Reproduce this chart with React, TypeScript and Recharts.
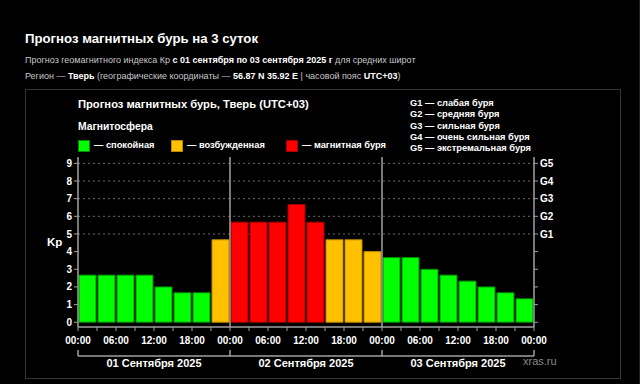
import React from 'react';
import { ComposedChart, Bar, Line, XAxis, YAxis, CartesianGrid, ReferenceLine, Cell } from 'recharts';

// ---- data ----
const slotHours = [1.5, 4.5, 7.5, 10.5, 13.5, 16.5, 19.5, 22.5, 25.5, 28.5, 31.5, 34.5, 37.5, 40.5, 43.5, 46.5, 49.5, 52.5, 55.5, 58.5, 61.5, 64.5, 67.5, 70.5];
const kpValues = [2.67, 2.67, 2.67, 2.67, 2.0, 1.67, 1.67, 4.67, 5.67, 5.67, 5.67, 6.67, 5.67, 4.67, 4.67, 4.0, 3.67, 3.67, 3.0, 2.67, 2.33, 2.0, 1.67, 1.33];
const hourTicks = [0, 3, 6, 9, 12, 15, 18, 21, 24, 27, 30, 33, 36, 39, 42, 45, 48, 51, 54, 57, 60, 63, 66, 69, 72];
const hourLabels = ['00:00', '06:00', '12:00', '18:00'];
const dayBoundaries = [0, 24, 48, 72];
const dayCenters = [12, 36, 60];
const dayLabels = ['01 Сентября 2025', '02 Сентября 2025', '03 Сентября 2025'];
const kpTicks = [0, 1, 2, 3, 4, 5, 6, 7, 8, 9];
const stormTicks = [5, 6, 7, 8, 9];
const stormLabels = ['G1', 'G2', 'G3', 'G4', 'G5'];
const stormNames = ['слабая буря', 'средняя буря', 'сильная буря', 'очень сильная буря', 'экстремальная буря'];

const data = slotHours.map((t, i) => ({ t, kp: kpValues[i] }));

const FONT = '"Liberation Sans", Arial, Helvetica, sans-serif';
const AXIS = '#a0a0a0';

const GREEN = { fill: '#00ff00', stroke: '#008a00' };
const ORANGE = { fill: '#ffc000', stroke: '#b88a00' };
const RED = { fill: '#ff0000', stroke: '#a00000' };
const colorOf = (v: number) => (v >= 5 ? RED : v >= 4 ? ORANGE : GREEN);

const hourFormatter = (v: number) => (v % 6 === 0 ? hourLabels[(v % 24) / 6] : '');
const stormFormatter = (v: number) => {
  const i = stormTicks.indexOf(v);
  return i >= 0 ? stormLabels[i] : '';
};

const DayTick = (props: any) => {
  const { x, y, payload } = props;
  const v = payload.value;
  if (dayBoundaries.includes(v)) {
    return <line x1={x} x2={x} y1={y - 6} y2={y} stroke={AXIS} strokeWidth={1.5} />;
  }
  const i = dayCenters.indexOf(v);
  return (
    <text x={x} y={y + 11} textAnchor="middle" fill="#ffffff" fontSize={11} fontWeight="bold" fontFamily={FONT}>
      {dayLabels[i]}
    </text>
  );
};

const abs = (l: number, t: number, extra: React.CSSProperties = {}): React.CSSProperties => ({
  position: 'absolute', left: l, top: t, whiteSpace: 'nowrap', fontFamily: FONT, ...extra,
});

export default function App() {
  const tickStyle = { fill: '#ffffff', fontSize: 10, fontWeight: 'bold' as const, fontFamily: FONT };
  const B = { color: '#fff' };
  return (
    <div style={{ position: 'absolute', left: 0, top: 0, width: 640, height: 384, background: '#000', overflow: 'hidden' }}>
      <div style={{ position: 'absolute', left: 639, top: 0, width: 1, height: 384, background: '#1e1e1e' }} />
      <div style={abs(25, 31, { color: '#fff', fontSize: 13.2, fontWeight: 'bold' })}>Прогноз магнитных бурь на 3 суток</div>
      <div style={abs(25, 55, { color: '#c8c8c8', fontSize: 9 })}>
        Прогноз геомагнитного индекса Кр <b style={B}>с 01 сентября по 03 сентября 2025 г</b> для средних широт
      </div>
      <div style={abs(25, 71, { color: '#c8c8c8', fontSize: 9 })}>
        Регион — <b style={B}>Тверь</b> (географические координаты — <b style={B}>56.87 N 35.92 E</b> | часовой пояс <b style={B}>UTC+03</b>)
      </div>
      <div style={{ position: 'absolute', left: 25, top: 89, width: 594, height: 288, border: '1px solid #363636' }} />

      <div style={{ position: 'absolute', left: 0, top: 0 }}>
        <ComposedChart width={640} height={384} data={data} margin={{ top: 157, left: 48, right: 76, bottom: 8 }} baseValue="dataMin">
          <CartesianGrid horizontal vertical={false} horizontalValues={stormTicks} stroke="#6a6a6a" strokeDasharray="2 3" yAxisId="kp" xAxisId="a_time" />
          <XAxis xAxisId="a_time" dataKey="t" type="number" domain={[0, 72]} ticks={hourTicks} interval={0} allowDataOverflow
            tickFormatter={hourFormatter} height={29} tickSize={4} tickMargin={6}
            axisLine={{ stroke: AXIS, strokeWidth: 1.5 }} tickLine={{ stroke: AXIS }} tick={tickStyle} />
          <XAxis xAxisId="b_day" dataKey="t" type="number" domain={[0, 72]} ticks={[...dayBoundaries, ...dayCenters].sort((a, b) => a - b)} interval={0} allowDataOverflow
            height={20} tickSize={0} tickMargin={0} axisLine={{ stroke: AXIS, strokeWidth: 1.5 }} tickLine={false} tick={<DayTick />} />
          <XAxis xAxisId="c_top" orientation="top" dataKey="t" type="number" domain={[0, 72]} allowDataOverflow height={0} tick={false} tickLine={false}
            axisLine={{ stroke: AXIS, strokeWidth: 1.5 }} />
          <YAxis yAxisId="kp" type="number" domain={[-0.27, 9.36]} ticks={kpTicks} interval={0} allowDataOverflow width={30}
            tickSize={4} tickMargin={2} axisLine={{ stroke: AXIS, strokeWidth: 1.5 }} tickLine={{ stroke: AXIS }} tick={tickStyle} />
          <YAxis yAxisId="g" orientation="right" type="number" domain={[-0.27, 9.36]} ticks={kpTicks} interval={0} allowDataOverflow width={30}
            tickFormatter={stormFormatter} tickSize={4} tickMargin={2} axisLine={{ stroke: AXIS, strokeWidth: 1.5 }} tickLine={{ stroke: AXIS }}
            tick={{ ...tickStyle, textAnchor: 'start' }} />
          <ReferenceLine xAxisId="a_time" yAxisId="kp" x={24} stroke={AXIS} strokeWidth={1.5} />
          <ReferenceLine xAxisId="a_time" yAxisId="kp" x={48} stroke={AXIS} strokeWidth={1.5} />
          <Bar xAxisId="a_time" yAxisId="kp" dataKey="kp" barSize={17} isAnimationActive={false}>
            {data.map((d, i) => {
              const c = colorOf(d.kp);
              return <Cell key={i} fill={c.fill} stroke={c.stroke} strokeWidth={1} />;
            })}
          </Bar>
          <Line xAxisId="b_day" yAxisId="g" dataKey="kp" stroke="none" dot={false} activeDot={false} isAnimationActive={false} />
        </ComposedChart>
      </div>

      <div style={abs(78, 98, { color: '#fff', fontSize: 11.2, fontWeight: 'bold' })}>Прогноз магнитных бурь, Тверь (UTC+03)</div>
      <div style={abs(78, 121, { color: '#fff', fontSize: 10.3, fontWeight: 'bold' })}>Магнитосфера</div>
      {[{ c: GREEN, l: 78, t: 'спокойная' }, { c: ORANGE, l: 171, t: 'возбужденная' }, { c: RED, l: 286, t: 'магнитная буря' }].map((it, i) => (
        <React.Fragment key={i}>
          <div style={{ position: 'absolute', left: it.l, top: 140, width: 10, height: 10, background: it.c.fill, border: `1px solid ${it.c.stroke}` }} />
          <div style={abs(it.l + 16, 140, { color: '#fff', fontSize: 9.3, fontWeight: 'bold' })}>— {it.t}</div>
        </React.Fragment>
      ))}
      {stormLabels.map((g, i) => (
        <div key={g} style={abs(410, 98 + i * 11.25, { color: '#fff', fontSize: 9.3, fontWeight: 'bold', lineHeight: '11px' })}>{g} — {stormNames[i]}</div>
      ))}
      <div style={abs(47, 236, { color: '#fff', fontSize: 11.5, fontWeight: 'bold' })}>Kp</div>
      <div style={abs(523, 355, { color: '#8a8a8a', fontSize: 11 })}>xras.ru</div>
    </div>
  );
}
